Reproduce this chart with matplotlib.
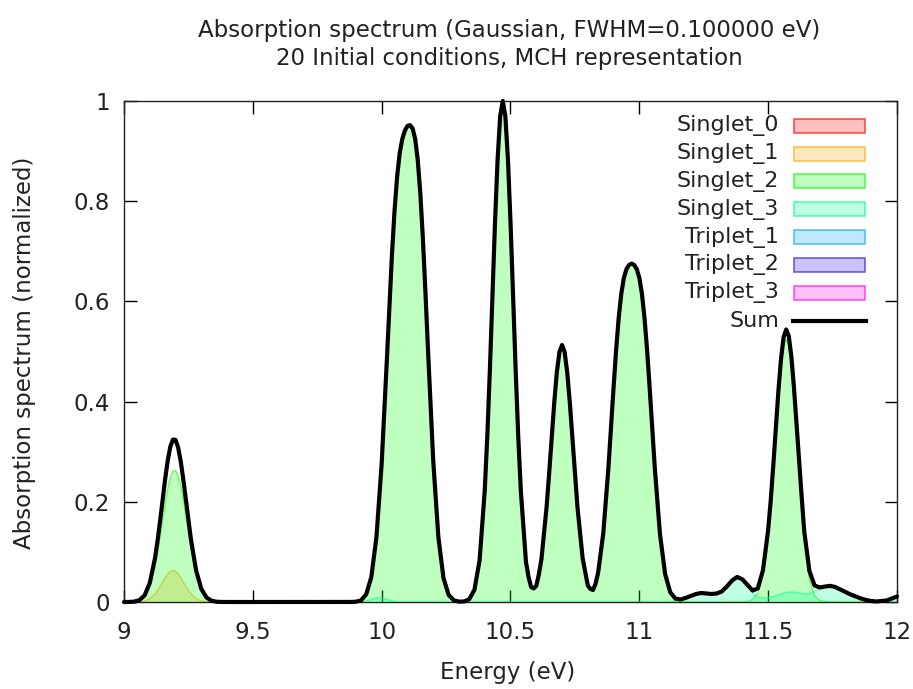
import matplotlib
matplotlib.use("Agg")
import matplotlib.pyplot as plt
from matplotlib.patches import Rectangle
from matplotlib.lines import Line2D

# ---------------- data ----------------
energy = [
    9.00, 9.02, 9.04, 9.06, 9.08, 9.10, 9.12,
    9.13, 9.14, 9.15, 9.16, 9.17, 9.18, 9.19, 9.20,
    9.21, 9.22, 9.23, 9.24, 9.25, 9.26, 9.28, 9.30,
    9.32, 9.34, 9.36, 9.38,
    9.40, 9.42, 9.44, 9.46, 9.48, 9.50, 9.52, 9.54, 9.56, 9.58,
    9.60, 9.62, 9.64, 9.66, 9.68, 9.70, 9.72, 9.74, 9.76, 9.78,
    9.80, 9.82, 9.84, 9.86,
    9.88, 9.90, 9.92, 9.94, 9.96, 9.98, 10.00, 10.02, 10.04,
    10.05, 10.06, 10.07, 10.08, 10.09, 10.10, 10.11, 10.12, 10.13,
    10.14, 10.15, 10.16, 10.17, 10.18, 10.20, 10.22, 10.24, 10.26,
    10.28, 10.30, 10.32, 10.34, 10.36, 10.38, 10.40, 10.41, 10.42,
    10.43, 10.44, 10.45, 10.46, 10.47, 10.48, 10.49, 10.50, 10.51,
    10.52, 10.53, 10.54, 10.56, 10.57, 10.58, 10.59, 10.60, 10.61, 10.62, 10.64, 10.65,
    10.66, 10.67, 10.68, 10.69, 10.70, 10.71, 10.72, 10.73, 10.74,
    10.75, 10.76, 10.78, 10.80, 10.81, 10.82, 10.83, 10.84, 10.86, 10.88, 10.90,
    10.91, 10.92, 10.93, 10.94, 10.95, 10.96, 10.97, 10.98, 10.99,
    11.00, 11.01, 11.02, 11.03, 11.04, 11.06, 11.08, 11.10,
    11.12, 11.14, 11.16, 11.18, 11.20, 11.22, 11.24, 11.26, 11.28,
    11.30, 11.32, 11.34, 11.36, 11.38, 11.40, 11.42, 11.44, 11.46,
    11.48, 11.50, 11.51, 11.52, 11.53, 11.54, 11.55, 11.56, 11.57,
    11.58, 11.59, 11.60, 11.61, 11.62, 11.63, 11.64, 11.66, 11.68,
    11.70, 11.72, 11.74, 11.76, 11.78, 11.80, 11.82, 11.84, 11.86,
    11.88, 11.90, 11.92, 11.94, 11.96, 11.98, 12.00,
]

spectrum_sum = [
    0.0000, 0.0001, 0.0008, 0.0038, 0.0133, 0.0379, 0.0865,
    0.1212, 0.1615, 0.2044, 0.2466, 0.2833, 0.3103, 0.3242, 0.3236,
    0.3085, 0.2812, 0.2451, 0.2042, 0.1627, 0.1241, 0.0626, 0.0262,
    0.0090, 0.0025, 0.0005, 0.0001,
    0.0000, 0.0000, 0.0000, 0.0000, 0.0000, 0.0000, 0.0000, 0.0000, 0.0000, 0.0000,
    0.0000, 0.0000, 0.0000, 0.0000, 0.0000, 0.0000, 0.0000, 0.0000, 0.0000, 0.0000,
    0.0000, 0.0000, 0.0000, 0.0000,
    0.0001, 0.0006, 0.0032, 0.0153, 0.0501, 0.1310, 0.2763, 0.4813, 0.6939,
    0.7812, 0.8492, 0.8959, 0.9241, 0.9409, 0.9501, 0.9520, 0.9452, 0.9245,
    0.8824, 0.8158, 0.7252, 0.6171, 0.5012, 0.2829, 0.1298, 0.0476, 0.0141,
    0.0033, 0.0007, 0.0011, 0.0056, 0.0243, 0.0830, 0.2220, 0.3310, 0.4640,
    0.6120, 0.7590, 0.8840, 0.9700, 1.0000, 0.9700, 0.8840, 0.7590, 0.6120,
    0.4640, 0.3310, 0.2224, 0.0800, 0.0500, 0.0300, 0.0270, 0.0320, 0.0550, 0.0850, 0.1889, 0.2565,
    0.3293, 0.3996, 0.4591, 0.4991, 0.5130, 0.4991, 0.4591, 0.3996, 0.3293,
    0.2565, 0.1888, 0.0872, 0.0330, 0.0260, 0.0240, 0.0360, 0.0583, 0.1366, 0.2678, 0.4282,
    0.5037, 0.5676, 0.6154, 0.6470, 0.6644, 0.6728, 0.6754, 0.6728, 0.6644,
    0.6470, 0.6154, 0.5676, 0.5037, 0.4282, 0.2678, 0.1362, 0.0560,
    0.0194, 0.0068, 0.0050, 0.0082, 0.0120, 0.0160, 0.0180, 0.0170, 0.0160,
    0.0170, 0.0210, 0.0310, 0.0430, 0.0500, 0.0452, 0.0340, 0.0228, 0.0273,
    0.0637, 0.1439, 0.2032, 0.2735, 0.3491, 0.4230, 0.4859, 0.5288, 0.5440,
    0.5308, 0.4899, 0.4290, 0.3561, 0.2805, 0.2102, 0.1410, 0.0620, 0.0330,
    0.0290, 0.0308, 0.0322, 0.0300, 0.0250, 0.0200, 0.0150, 0.0110, 0.0070,
    0.0040, 0.0020, 0.0010, 0.0020, 0.0030, 0.0070, 0.0110,
]

singlet_2 = [
    0.0000, 0.0001, 0.0007, 0.0032, 0.0111, 0.0312, 0.0703,
    0.0980, 0.1300, 0.1640, 0.1975, 0.2269, 0.2490, 0.2612, 0.2623,
    0.2521, 0.2321, 0.2047, 0.1727, 0.1395, 0.1079, 0.0559, 0.0240,
    0.0084, 0.0024, 0.0005, 0.0001,
    0.0000, 0.0000, 0.0000, 0.0000, 0.0000, 0.0000, 0.0000, 0.0000, 0.0000, 0.0000,
    0.0000, 0.0000, 0.0000, 0.0000, 0.0000, 0.0000, 0.0000, 0.0000, 0.0000, 0.0000,
    0.0000, 0.0000, 0.0000, 0.0000,
    0.0001, 0.0006, 0.0032, 0.0133, 0.0451, 0.1230, 0.2683, 0.4763, 0.6919,
    0.7812, 0.8492, 0.8959, 0.9241, 0.9409, 0.9501, 0.9520, 0.9452, 0.9245,
    0.8824, 0.8158, 0.7252, 0.6171, 0.5012, 0.2829, 0.1298, 0.0476, 0.0141,
    0.0033, 0.0007, 0.0011, 0.0056, 0.0243, 0.0830, 0.2220, 0.3310, 0.4640,
    0.6120, 0.7590, 0.8840, 0.9700, 1.0000, 0.9700, 0.8840, 0.7590, 0.6120,
    0.4640, 0.3310, 0.2224, 0.0800, 0.0500, 0.0300, 0.0270, 0.0320, 0.0550, 0.0850, 0.1889, 0.2565,
    0.3293, 0.3996, 0.4591, 0.4991, 0.5130, 0.4991, 0.4591, 0.3996, 0.3293,
    0.2565, 0.1888, 0.0872, 0.0330, 0.0260, 0.0240, 0.0360, 0.0583, 0.1366, 0.2678, 0.4282,
    0.5037, 0.5676, 0.6154, 0.6470, 0.6644, 0.6728, 0.6754, 0.6728, 0.6644,
    0.6470, 0.6154, 0.5676, 0.5037, 0.4282, 0.2678, 0.1362, 0.0560,
    0.0184, 0.0048, 0.0010, 0.0002, 0.0000, 0.0000, 0.0000, 0.0000, 0.0000,
    0.0000, 0.0000, 0.0000, 0.0000, 0.0000, 0.0002, 0.0010, 0.0048, 0.0183,
    0.0557, 0.1349, 0.1932, 0.2625, 0.3371, 0.4090, 0.4699, 0.5108, 0.5250,
    0.5108, 0.4699, 0.4090, 0.3371, 0.2625, 0.1932, 0.1250, 0.0450, 0.0120,
    0.0030, 0.0008, 0.0002, 0.0000, 0.0000, 0.0000, 0.0000, 0.0000, 0.0000,
    0.0000, 0.0000, 0.0000, 0.0000, 0.0000, 0.0000, 0.0000,
]

energy_s1 = [9.04, 9.06, 9.08, 9.10, 9.12, 9.13, 9.14, 9.15, 9.16, 9.17, 9.18, 9.19,
             9.20, 9.21, 9.22, 9.23, 9.24, 9.25, 9.26, 9.28, 9.30, 9.32, 9.34, 9.36]
singlet_1 = [0.0001, 0.0006, 0.0022, 0.0067, 0.0162, 0.0232, 0.0315, 0.0404, 0.0491,
             0.0564, 0.0613, 0.0630, 0.0613, 0.0564, 0.0491, 0.0404, 0.0315, 0.0232,
             0.0162, 0.0067, 0.0022, 0.0006, 0.0001, 0.0000]

energy_s3 = [
    9.92, 9.94, 9.96, 9.98, 10.00, 10.02, 10.04, 10.06,
    11.10, 11.12, 11.14, 11.16, 11.18, 11.20, 11.22, 11.24, 11.26, 11.28,
    11.30, 11.32, 11.34, 11.36, 11.38, 11.40, 11.42, 11.44, 11.46, 11.48,
    11.50, 11.52, 11.54, 11.56, 11.57, 11.58, 11.60, 11.62, 11.64, 11.66,
    11.68, 11.70, 11.72, 11.74, 11.76, 11.78, 11.80, 11.82, 11.84, 11.86,
    11.88, 11.90, 11.92, 11.94, 11.96, 11.98, 12.00,
]
singlet_3 = [
    0.000, 0.002, 0.005, 0.008, 0.008, 0.005, 0.002, 0.000,
    0.000, 0.001, 0.002, 0.004, 0.008, 0.012, 0.016, 0.018, 0.017, 0.016,
    0.017, 0.021, 0.031, 0.043, 0.050, 0.045, 0.033, 0.018, 0.009, 0.008,
    0.009, 0.011, 0.014, 0.018, 0.019, 0.020, 0.020, 0.018, 0.016, 0.017,
    0.021, 0.026, 0.030, 0.032, 0.030, 0.025, 0.020, 0.015, 0.011, 0.007,
    0.004, 0.002, 0.001, 0.002, 0.003, 0.007, 0.011,
]

legend_labels = ["Singlet_0", "Singlet_1", "Singlet_2", "Singlet_3",
                 "Triplet_1", "Triplet_2", "Triplet_3", "Sum"]
x_ticks = [9, 9.5, 10, 10.5, 11, 11.5, 12]
x_tick_labels = ["9", "9.5", "10", "10.5", "11", "11.5", "12"]
y_ticks = [0, 0.2, 0.4, 0.6, 0.8, 1.0]
y_tick_labels = ["0", "0.2", "0.4", "0.6", "0.8", "1"]

assert len(energy) == len(spectrum_sum) == len(singlet_2), (len(energy), len(spectrum_sum), len(singlet_2))
assert len(energy_s1) == len(singlet_1)
assert len(energy_s3) == len(singlet_3)

# ---------------- styling ----------------
base_colors = {
    "Singlet_0": "#ff0000",
    "Singlet_1": "#ffa500",
    "Singlet_2": "#00ff00",
    "Singlet_3": "#00ff90",
    "Triplet_1": "#00aaf0",
    "Triplet_2": "#2a10e8",
    "Triplet_3": "#ff00ee",
}
FILL_ALPHA = 0.25
EDGE_ALPHA = 0.55
TEXT = "#222222"

W, H = 913, 689
fig = plt.figure(figsize=(W / 100, H / 100), dpi=100)
L, R, T, B = 124, 897, 101, 602
ax = fig.add_axes([L / W, 1 - B / H, (R - L) / W, (B - T) / H])

series = [
    ("Singlet_1", energy_s1, singlet_1),
    ("Singlet_2", energy, singlet_2),
    ("Singlet_3", energy_s3, singlet_3),
]
for i, (name, xs, ys) in enumerate(series):
    c = base_colors[name]
    ax.fill_between(xs, 0, ys, facecolor=c, alpha=FILL_ALPHA, linewidth=0, zorder=2 + i)
    ax.plot(xs, ys, color=c, alpha=EDGE_ALPHA, lw=1.0, zorder=2 + i)

ax.plot(energy, spectrum_sum, color="black", lw=3.0, clip_on=False, zorder=10,
        solid_joinstyle="round", solid_capstyle="round")

ax.set_xlim(9, 12)
ax.set_ylim(0, 1)
ax.set_xticks(x_ticks)
ax.set_xticklabels(x_tick_labels)
ax.set_yticks(y_ticks)
ax.set_yticklabels(y_tick_labels)
ax.tick_params(direction="in", length=9, width=1.0, top=True, right=True,
               labelsize=16.5, colors="black")
ax.tick_params(axis="x", pad=14)
ax.tick_params(axis="y", pad=10)
for lab in ax.get_xticklabels() + ax.get_yticklabels():
    lab.set_color(TEXT)
for s in ax.spines.values():
    s.set_linewidth(1.0)
    s.set_color("#222222")

fs = 16.5
fig.text(509 / W, 1 - 31 / H, "Absorption spectrum (Gaussian, FWHM=0.100000 eV)",
         ha="center", va="center", fontsize=fs, color=TEXT)
fig.text(509 / W, 1 - 58 / H, "20 Initial conditions, MCH representation",
         ha="center", va="center", fontsize=fs, color=TEXT)
fig.text(508 / W, 1 - 672 / H, "Energy (eV)", ha="center", va="center",
         fontsize=fs, color=TEXT)
fig.text(25 / W, 1 - 353 / H, "Absorption spectrum (normalized)", ha="center",
         va="center", rotation=90, fontsize=fs, color=TEXT)

# ---------------- legend (gnuplot style, right-justified labels) ----------------
def px2ax(xp, yp):
    return (xp - L) / (R - L), (B - yp) / (B - T)

row0, dy = 125.7, 27.85
for i, name in enumerate(legend_labels):
    yc = row0 + i * dy
    tx, ty = px2ax(779, yc)
    ax.text(tx, ty, name, transform=ax.transAxes, ha="right", va="center",
            fontsize=16, color=TEXT, zorder=20)
    if name == "Sum":
        x0, y0 = px2ax(793, yc)
        x1, _ = px2ax(866, yc)
        ax.add_line(Line2D([x0, x1], [y0, y0], transform=ax.transAxes,
                           color="black", lw=3.0, zorder=20))
    else:
        c = base_colors[name]
        bx0, by0 = px2ax(794, yc + 7)
        bx1, by1 = px2ax(865, yc - 7)
        ax.add_patch(Rectangle((bx0, by0), bx1 - bx0, by1 - by0, transform=ax.transAxes,
                               facecolor=c, alpha=FILL_ALPHA, linewidth=0, zorder=20))
        ax.add_patch(Rectangle((bx0, by0), bx1 - bx0, by1 - by0, transform=ax.transAxes,
                               facecolor="none", edgecolor=c, alpha=EDGE_ALPHA + 0.1,
                               linewidth=1.2, zorder=21))

fig.savefig("out.png", dpi=100)
